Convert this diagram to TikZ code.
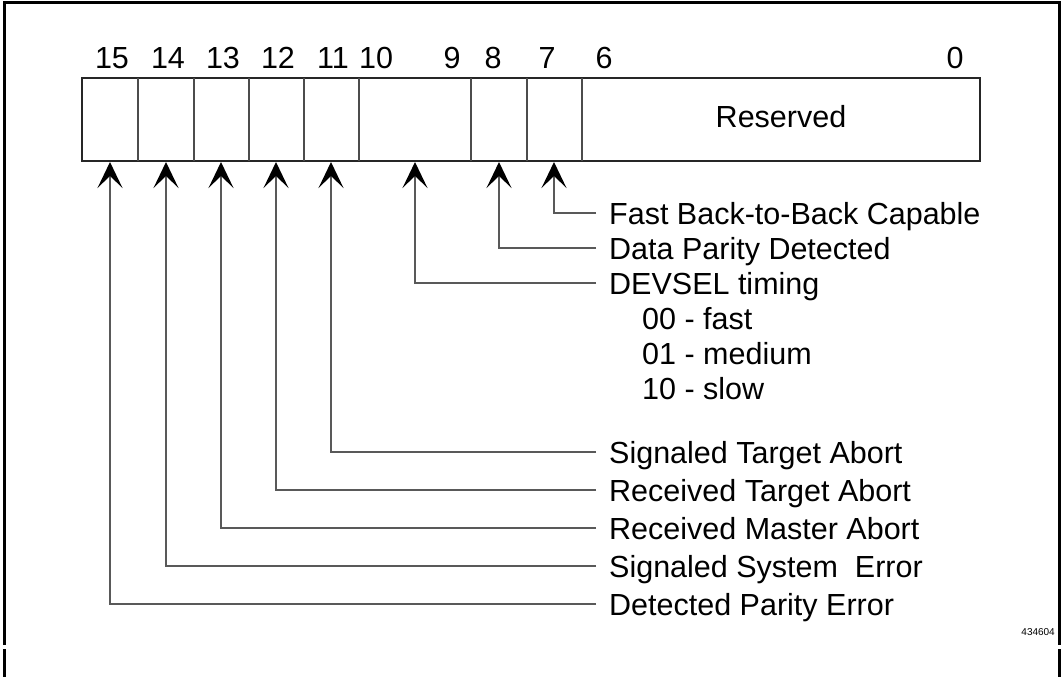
\documentclass[tikz,border=0pt]{standalone}
\usepackage{fontspec}
\setmainfont{Liberation Sans}
\usetikzlibrary{arrows.meta}

\tikzset{
	regline/.style={line width=1.4pt, draw=black!85},
	divline/.style={line width=1.2pt, draw=black!70},
	sigline/.style={line width=1.3pt, draw=black!65,
		-{Stealth[length=26pt,width=25pt,inset=12pt,color=black]}},
	biglabel/.style={anchor=west, inner xsep=13pt, inner ysep=0pt, text height=22pt, text depth=0pt},
	sublabel/.style={anchor=west, inner sep=0pt, text height=22pt, text depth=0pt},
	bitnum/.style={anchor=base, inner sep=0pt}
}

\begin{document}
\begin{tikzpicture}[x=1pt,y=-1pt,font=\fontsize{30.5}{36}\selectfont]
	\useasboundingbox (0,0) rectangle (1064,677);
	
	% Frame
	\draw[line width=3pt] (4,645) -- (4,2.5) -- (1059.5,2.5) -- (1059.5,645);
	\draw[line width=3pt] (4,649) -- (4,677);
	\draw[line width=3pt] (1059.5,649) -- (1059.5,677);
	
	% Register
	\draw[regline] (82,78) rectangle (980,161);
	\foreach \x in {138,194,249,304,359,471,527,582}
		\draw[divline] (\x,78) -- (\x,161);
	\node (res) at (781,117) {Reserved};
	
	% Bit numbers
	\foreach \n/\x in {15/112,14/168,13/223,12/278,11/333,10/376,9/452,8/493,7/547,6/604,0/955}
		\node[bitnum] (n\n) at (\x,68) {\n};
	
	% Arrow tips at the bottom of the fields
	\foreach \b/\x in {15/110,14/166,13/221,12/276,11/331,10/415,8/499,7/554}
		\coordinate (b\b) at (\x,162);
	
	% Labels
	\node[biglabel] (l7) at (596,213) {Fast Back-to-Back Capable};
	\node[biglabel] (l8) at (596,248) {Data Parity Detected};
	\node[biglabel] (l10) at (596,283) {DEVSEL timing};
	\node[sublabel] (t00) at (642,318) {00 - fast};
	\node[sublabel] (t01) at (642,353) {01 - medium};
	\node[sublabel] (t10) at (642,388) {10 - slow};
	\node[biglabel] (l11) at (596,452) {Signaled Target Abort};
	\node[biglabel] (l12) at (596,490) {Received Target Abort};
	\node[biglabel] (l13) at (596,528) {Received Master Abort};
	\node[biglabel] (l14) at (596,566) {Signaled System\ \ Error};
	\node[biglabel] (l15) at (596,604) {Detected Parity Error};
	
	% Connectors
	\foreach \b in {7,8,10,11,12,13,14,15}
		\draw[sigline] (l\b.west) -| (b\b);
	
	% Figure number
	\node[anchor=east, inner sep=0pt, font=\fontsize{10}{12}\selectfont] (fig) at (1055,632) {434604};
\end{tikzpicture}
\end{document}
